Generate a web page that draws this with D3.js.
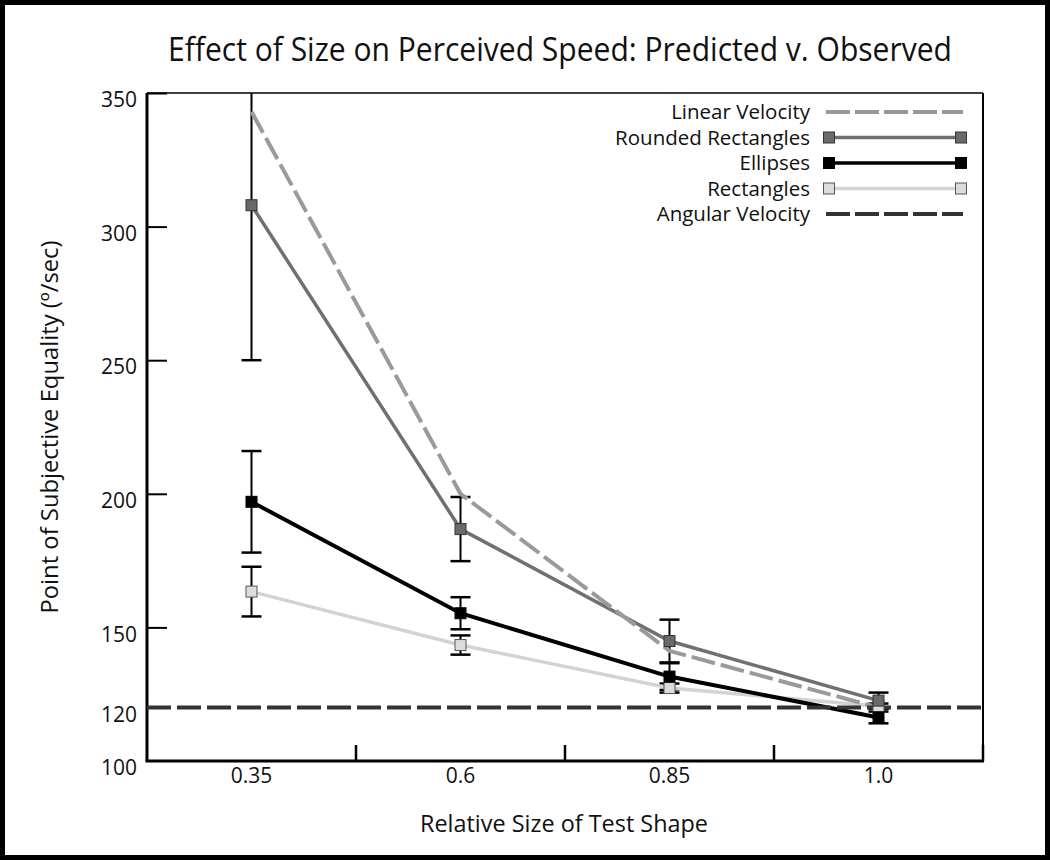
<!DOCTYPE html>
<html>
<head>
<meta charset="utf-8">
<script src="https://cdnjs.cloudflare.com/ajax/libs/d3/7.8.5/d3.min.js"></script>
<style>
  body { margin: 0; background: #fff; }
  svg text { font-family: "Open Sans", "Lato", sans-serif; fill: #111; }
</style>
</head>
<body>
<div class="chart"></div>
<script>
// categories on the x axis (relative size of test shape)
var sizes = ["0.35", "0.6", "0.85", "1.0"];

// series values
var linearVelocity = [343, 200, 141.2, 120];
var roundedRects = [308, 186.8, 144.9, 122.6];
var roundedRectsErr = [58, 12, 8, 3];
var ellipses = [197, 155.3, 131.6, 116.3];
var ellipsesErr = [19, 6, 5, 2.2];
var rectangles = [163.4, 143.4, 127.3, 120.5];
var rectanglesErr = [9.3, 3.6, 1.7, 1];
var angularVelocity = 120;

var yTickLabels = [100, 120, 150, 200, 250, 300, 350];
var yTickMarks = [150, 200, 250, 300, 350];

var legendNames = ["Linear Velocity", "Rounded Rectangles", "Ellipses", "Rectangles", "Angular Velocity"];

function drawChart() {
    var W = 1050, H = 860;
    var left = 147, right = 983, top = 93, bottom = 761;

    var svg = d3.select(".chart").append("svg")
        .attr("width", W).attr("height", H);

    // outer frame
    svg.append("rect")
        .attr("x", 2.5).attr("y", 2.5)
        .attr("width", W - 5).attr("height", H - 5)
        .attr("fill", "#fff").attr("stroke", "#000").attr("stroke-width", 5);

    var x = d3.scaleBand().domain(sizes).range([left, right]);
    var y = d3.scaleLinear().domain([100, 350]).range([bottom, top]);
    var cx = function(d) { return x(d) + x.bandwidth() / 2; };

    // title
    svg.append("text")
        .attr("x", 560).attr("y", 61)
        .attr("text-anchor", "middle")
        .attr("font-size", 33)
        .attr("textLength", 784).attr("lengthAdjust", "spacingAndGlyphs")
        .text("Effect of Size on Perceived Speed: Predicted v. Observed");

    svg.append("defs").append("clipPath").attr("id", "plotClip")
        .append("rect")
        .attr("x", left).attr("y", top)
        .attr("width", right - left).attr("height", bottom - top);

    // frame of the plot
    svg.append("line").attr("x1", left).attr("x2", right).attr("y1", top).attr("y2", top)
        .attr("stroke", "#000").attr("stroke-width", 1.5);
    svg.append("line").attr("x1", right).attr("x2", right).attr("y1", top).attr("y2", bottom)
        .attr("stroke", "#000").attr("stroke-width", 2);

    // y axis: labels (no tick marks) then inward tick marks
    var yAxis = svg.append("g").attr("transform", "translate(" + left + ",0)")
        .call(d3.axisLeft(y).tickValues(yTickLabels).tickSize(0).tickPadding(10));
    yAxis.select(".domain").remove();
    yAxis.selectAll("text")
        .attr("font-size", 21).attr("font-family", null).attr("dy", "0.65em");

    var yMarks = svg.append("g").attr("transform", "translate(" + left + ",0)")
        .call(d3.axisRight(y).tickValues(yTickMarks).tickSize(20).tickFormat(""));
    yMarks.select(".domain").remove();
    yMarks.selectAll("line").attr("stroke", "#000").attr("stroke-width", 2);

    svg.append("line").attr("x1", left).attr("x2", left).attr("y1", top).attr("y2", bottom)
        .attr("stroke", "#000").attr("stroke-width", 3);

    // x axis: labels at band centres, tick marks at band edges
    var xAxis = svg.append("g").attr("transform", "translate(0," + bottom + ")")
        .call(d3.axisBottom(x).tickSize(0).tickPadding(7));
    xAxis.select(".domain").remove();
    xAxis.selectAll("text").attr("font-size", 21).attr("font-family", null);

    var edges = sizes.slice(1).map(function(d) { return x(d); }).concat([right]);
    svg.append("g").selectAll("line").data(edges).join("line")
        .attr("x1", function(d) { return d; }).attr("x2", function(d) { return d; })
        .attr("y1", bottom).attr("y2", bottom - 16)
        .attr("stroke", "#000").attr("stroke-width", 2.5);

    svg.append("line").attr("x1", left - 1.5).attr("x2", right + 1).attr("y1", bottom).attr("y2", bottom)
        .attr("stroke", "#000").attr("stroke-width", 3);

    // axis titles
    svg.append("text")
        .attr("x", 564).attr("y", 832)
        .attr("text-anchor", "middle").attr("font-size", 23)
        .attr("textLength", 288).attr("lengthAdjust", "spacingAndGlyphs")
        .text("Relative Size of Test Shape");
    svg.append("text")
        .attr("transform", "translate(58,427) rotate(-90)")
        .attr("text-anchor", "middle").attr("font-size", 23)
        .attr("textLength", 373).attr("lengthAdjust", "spacingAndGlyphs")
        .text("Point of Subjective Equality (\u00BA/sec)");

    var plot = svg.append("g").attr("clip-path", "url(#plotClip)");

    var series = [
        { vals: rectangles, err: rectanglesErr, line: "#d3d3d3", fill: "#dcdcdc", edge: "#555", w: 3.5 },
        { vals: roundedRects, err: roundedRectsErr, line: "#707070", fill: "#6a6a6a", edge: "#333", w: 3.5 },
        { vals: ellipses, err: ellipsesErr, line: "#000", fill: "#000", edge: "#000", w: 4 }
    ];

    var line = d3.line()
        .x(function(d, i) { return cx(sizes[i]); })
        .y(function(d) { return y(d); });

    // error bars
    series.forEach(function(s) {
        var g = plot.append("g");
        s.vals.forEach(function(v, i) {
            var px = cx(sizes[i]);
            var hi = y(v + s.err[i]), lo = y(v - s.err[i]);
            g.append("line").attr("x1", px).attr("x2", px).attr("y1", hi).attr("y2", lo)
                .attr("stroke", "#000").attr("stroke-width", 2);
            [hi, lo].forEach(function(yy) {
                g.append("line").attr("x1", px - 10).attr("x2", px + 10).attr("y1", yy).attr("y2", yy)
                    .attr("stroke", "#000").attr("stroke-width", 2.5);
            });
        });
    });

    // series lines
    series.forEach(function(s) {
        plot.append("path").datum(s.vals)
            .attr("d", line).attr("fill", "none")
            .attr("stroke", s.line).attr("stroke-width", s.w);
    });

    plot.append("path").datum(linearVelocity)
        .attr("d", line).attr("fill", "none")
        .attr("stroke", "#9a9a9a").attr("stroke-width", 4)
        .attr("stroke-dasharray", "24,6");

    plot.append("line")
        .attr("x1", left).attr("x2", right)
        .attr("y1", y(angularVelocity)).attr("y2", y(angularVelocity))
        .attr("stroke", "#333").attr("stroke-width", 4)
        .attr("stroke-dasharray", "24,6");

    // markers
    series.forEach(function(s) {
        plot.append("g").selectAll("rect").data(s.vals).join("rect")
            .attr("x", function(d, i) { return cx(sizes[i]) - 5.5; })
            .attr("y", function(d) { return y(d) - 5.5; })
            .attr("width", 11).attr("height", 11)
            .attr("fill", s.fill).attr("stroke", s.edge).attr("stroke-width", 1);
    });

    // legend
    var legendStyles = [
        { line: "#9a9a9a", dash: "24,5", w: 4, marker: null },
        { line: "#707070", dash: null, w: 3.5, marker: "#6a6a6a", edge: "#333" },
        { line: "#000", dash: null, w: 3.5, marker: "#000", edge: "#000" },
        { line: "#d3d3d3", dash: null, w: 3.5, marker: "#dcdcdc", edge: "#555" },
        { line: "#333", dash: "24,5", w: 4, marker: null }
    ];
    var lg = svg.append("g");
    legendNames.forEach(function(name, i) {
        var ly = 112 + i * 25.5;
        var st = legendStyles[i];
        lg.append("text").attr("x", 810).attr("y", ly).attr("dy", "0.35em")
            .attr("text-anchor", "end").attr("font-size", 20.5).text(name);
        lg.append("line").attr("x1", 826).attr("x2", 963).attr("y1", ly).attr("y2", ly)
            .attr("stroke", st.line).attr("stroke-width", st.w)
            .attr("stroke-dasharray", st.dash);
        if (st.marker) {
            [829, 961].forEach(function(mx) {
                lg.append("rect").attr("x", mx - 5.5).attr("y", ly - 5.5)
                    .attr("width", 11).attr("height", 11)
                    .attr("fill", st.marker).attr("stroke", st.edge).attr("stroke-width", 1);
            });
        }
    });
}
drawChart();
</script>
</body>
</html>
